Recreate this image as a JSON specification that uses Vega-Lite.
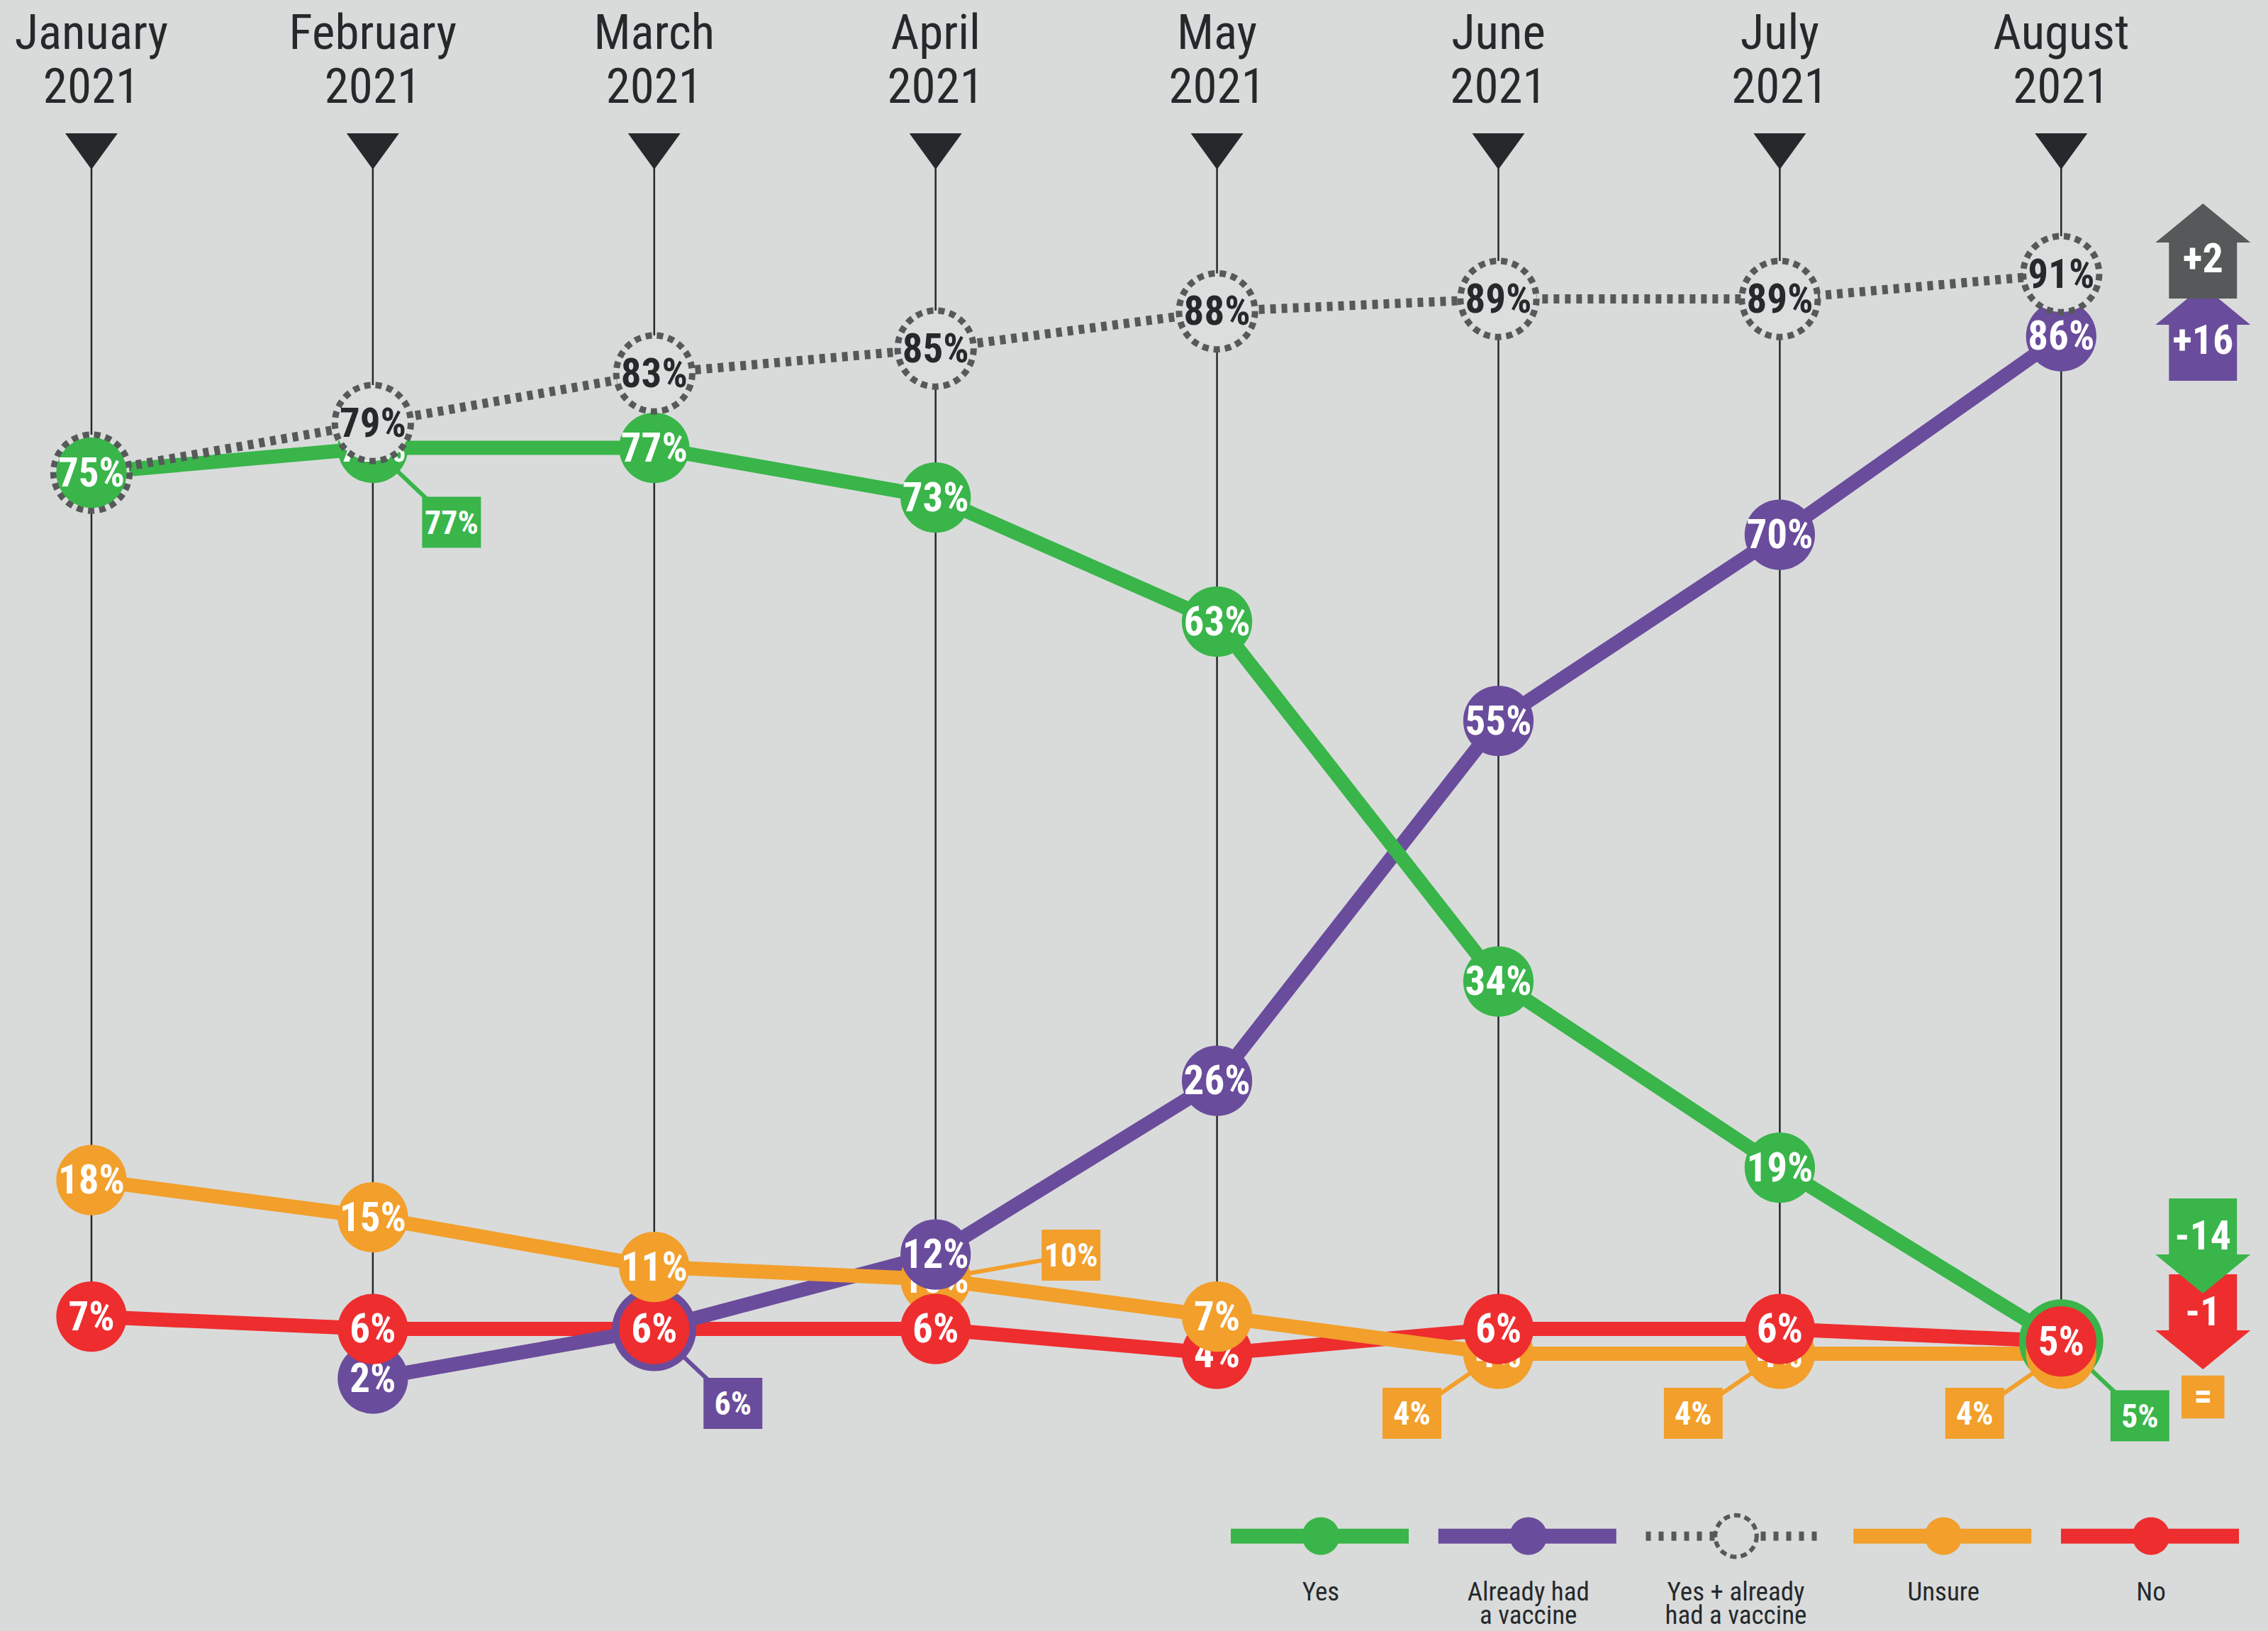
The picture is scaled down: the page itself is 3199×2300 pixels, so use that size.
{
  "$schema": "https://vega.github.io/schema/vega-lite/v6.json",
  "width": 3199,
  "height": 2300,
  "autosize": {"type": "none"},
  "padding": 0,
  "background": "#d9dbda",
  "config": {
    "view": {"stroke": null},
    "font": "Roboto Condensed, Liberation Sans Narrow, DejaVu Sans Condensed, sans-serif"
  },
  "datasets": {
    "months": [
      {"month": "January", "year": "2021"},
      {"month": "February", "year": "2021"},
      {"month": "March", "year": "2021"},
      {"month": "April", "year": "2021"},
      {"month": "May", "year": "2021"},
      {"month": "June", "year": "2021"},
      {"month": "July", "year": "2021"},
      {"month": "August", "year": "2021"}
    ],
    "points": [
      {"month": "January", "series": "Yes", "value": 0.75, "hidden": false, "callout": ""},
      {"month": "January", "series": "Yes + already", "value": 0.75, "hidden": true, "callout": ""},
      {"month": "January", "series": "Unsure", "value": 0.18, "hidden": false, "callout": ""},
      {"month": "January", "series": "No", "value": 0.07, "hidden": false, "callout": ""},
      {"month": "February", "series": "Yes", "value": 0.77, "hidden": true, "callout": "dr"},
      {"month": "February", "series": "Already had", "value": 0.02, "hidden": false, "callout": ""},
      {"month": "February", "series": "Yes + already", "value": 0.79, "hidden": false, "callout": ""},
      {"month": "February", "series": "Unsure", "value": 0.15, "hidden": false, "callout": ""},
      {"month": "February", "series": "No", "value": 0.06, "hidden": false, "callout": ""},
      {"month": "March", "series": "Yes", "value": 0.77, "hidden": false, "callout": ""},
      {"month": "March", "series": "Already had", "value": 0.06, "hidden": true, "callout": "dr"},
      {"month": "March", "series": "Yes + already", "value": 0.83, "hidden": false, "callout": ""},
      {"month": "March", "series": "Unsure", "value": 0.11, "hidden": false, "callout": ""},
      {"month": "March", "series": "No", "value": 0.06, "hidden": false, "callout": ""},
      {"month": "April", "series": "Yes", "value": 0.73, "hidden": false, "callout": ""},
      {"month": "April", "series": "Already had", "value": 0.12, "hidden": false, "callout": ""},
      {"month": "April", "series": "Yes + already", "value": 0.85, "hidden": false, "callout": ""},
      {"month": "April", "series": "Unsure", "value": 0.10, "hidden": true, "callout": "ur"},
      {"month": "April", "series": "No", "value": 0.06, "hidden": false, "callout": ""},
      {"month": "May", "series": "Yes", "value": 0.63, "hidden": false, "callout": ""},
      {"month": "May", "series": "Already had", "value": 0.26, "hidden": false, "callout": ""},
      {"month": "May", "series": "Yes + already", "value": 0.88, "hidden": false, "callout": ""},
      {"month": "May", "series": "Unsure", "value": 0.07, "hidden": false, "callout": ""},
      {"month": "May", "series": "No", "value": 0.04, "hidden": false, "callout": ""},
      {"month": "June", "series": "Yes", "value": 0.34, "hidden": false, "callout": ""},
      {"month": "June", "series": "Already had", "value": 0.55, "hidden": false, "callout": ""},
      {"month": "June", "series": "Yes + already", "value": 0.89, "hidden": false, "callout": ""},
      {"month": "June", "series": "Unsure", "value": 0.04, "hidden": true, "callout": "dl"},
      {"month": "June", "series": "No", "value": 0.06, "hidden": false, "callout": ""},
      {"month": "July", "series": "Yes", "value": 0.19, "hidden": false, "callout": ""},
      {"month": "July", "series": "Already had", "value": 0.70, "hidden": false, "callout": ""},
      {"month": "July", "series": "Yes + already", "value": 0.89, "hidden": false, "callout": ""},
      {"month": "July", "series": "Unsure", "value": 0.04, "hidden": true, "callout": "dl"},
      {"month": "July", "series": "No", "value": 0.06, "hidden": false, "callout": ""},
      {"month": "August", "series": "Yes", "value": 0.05, "hidden": true, "callout": "dr"},
      {"month": "August", "series": "Already had", "value": 0.86, "hidden": false, "callout": ""},
      {"month": "August", "series": "Yes + already", "value": 0.91, "hidden": false, "callout": ""},
      {"month": "August", "series": "Unsure", "value": 0.04, "hidden": true, "callout": "dl"},
      {"month": "August", "series": "No", "value": 0.05, "hidden": false, "callout": ""}
    ],
    "changes": [
      {"month": "August", "series": "Already had", "value": 0.86, "change": "+16"},
      {"month": "August", "series": "Yes + already", "value": 0.91, "change": "+2"},
      {"month": "August", "series": "No", "value": 0.05, "change": "-1"},
      {"month": "August", "series": "Yes", "value": 0.05, "change": "-14"},
      {"month": "August", "series": "Unsure", "value": 0.04, "change": "="}
    ],
    "legend": [
      {"series": "Yes", "l1": "Yes", "l2": ""},
      {"series": "Already had", "l1": "Already had", "l2": "a vaccine"},
      {"series": "Yes + already", "l1": "Yes + already", "l2": "had a vaccine"},
      {"series": "Unsure", "l1": "Unsure", "l2": ""},
      {"series": "No", "l1": "No", "l2": ""}
    ]
  },
  "resolve": {"scale": {"x": "independent"}},
  "layer": [
    {
      "data": {"name": "points"},
      "encoding": {
        "x": {"field": "month", "type": "ordinal", "axis": null,
              "scale": {"type": "point", "domain": ["January", "February", "March", "April", "May", "June", "July", "August"], "padding": 0.53, "align": 0.3066, "round": false}}
      },
      "layer": [
        {
          "transform": [{"aggregate": [{"op": "min", "field": "value", "as": "low"}], "groupby": ["month"]}],
          "mark": {"type": "rule", "color": "#25292c", "strokeWidth": 2.5},
          "encoding": {
            "y": {"field": "low", "type": "quantitative", "axis": null, "scale": {"domain": [-0.1834, 1.1309], "nice": false, "zero": false}},
            "y2": {"datum": 1.0089}
          }
        },
        {
          "data": {"name": "months"},
          "mark": {"type": "point", "shape": "M-1,-0.69L1,-0.69L0,0.69Z", "filled": true, "opacity": 1, "size": 5476, "color": "#25292c"},
          "encoding": {"y": {"datum": 1.0089, "type": "quantitative"}}
        },
        {
          "data": {"name": "months"},
          "mark": {"type": "text", "fontSize": 69, "color": "#25292c", "baseline": "alphabetic", "align": "center"},
          "encoding": {"y": {"datum": 1.0914, "type": "quantitative"}, "text": {"field": "month"}}
        },
        {
          "data": {"name": "months"},
          "mark": {"type": "text", "fontSize": 69, "color": "#25292c", "baseline": "alphabetic", "align": "center"},
          "encoding": {"y": {"datum": 1.048, "type": "quantitative"}, "text": {"field": "year"}}
        },
        {
          "transform": [{"filter": "datum.series === 'No'"}],
          "mark": {"type": "line", "strokeWidth": 20, "color": "#ee2d2f"},
          "encoding": {"y": {"field": "value", "type": "quantitative"}}
        },
        {
          "transform": [{"filter": "datum.series === 'Already had'"}],
          "mark": {"type": "line", "strokeWidth": 20, "color": "#6a4c9c"},
          "encoding": {"y": {"field": "value", "type": "quantitative"}}
        },
        {
          "transform": [{"filter": "datum.series === 'Unsure'"}],
          "mark": {"type": "line", "strokeWidth": 20, "color": "#f29f2b"},
          "encoding": {"y": {"field": "value", "type": "quantitative"}}
        },
        {
          "transform": [{"filter": "datum.series === 'Yes'"}],
          "mark": {"type": "line", "strokeWidth": 20, "color": "#39b54a"},
          "encoding": {"y": {"field": "value", "type": "quantitative"}}
        },
        {
          "transform": [{"filter": "datum.series === 'Yes + already'"}],
          "mark": {"type": "line", "strokeWidth": 13, "color": "#565959", "strokeDash": [8, 8]},
          "encoding": {"y": {"field": "value", "type": "quantitative"}}
        },
        {
          "transform": [{"filter": "datum.callout === 'dr'"}],
          "mark": {"type": "rule", "strokeWidth": 6, "x2Offset": 111, "y2Offset": 105},
          "encoding": {"y": {"field": "value", "type": "quantitative"}, "x2": {"field": "month"}, "y2": {"field": "value"},
                       "color": {"field": "series", "type": "nominal", "legend": null, "scale": {"domain": ["Yes", "Already had", "Yes + already", "Unsure", "No"], "range": ["#39b54a", "#6a4c9c", "#565959", "#f29f2b", "#ee2d2f"]}}}
        },
        {
          "transform": [{"filter": "datum.callout === 'ur'"}],
          "mark": {"type": "rule", "strokeWidth": 6, "x2Offset": 191, "y2Offset": -34},
          "encoding": {"y": {"field": "value", "type": "quantitative"}, "x2": {"field": "month"}, "y2": {"field": "value"},
                       "color": {"field": "series", "type": "nominal", "legend": null}}
        },
        {
          "transform": [{"filter": "datum.callout === 'dl'"}],
          "mark": {"type": "rule", "strokeWidth": 6, "x2Offset": -122, "y2Offset": 84},
          "encoding": {"y": {"field": "value", "type": "quantitative"}, "x2": {"field": "month"}, "y2": {"field": "value"},
                       "color": {"field": "series", "type": "nominal", "legend": null}}
        },
        {
          "transform": [
            {"joinaggregate": [{"op": "count", "as": "n"}], "groupby": ["month", "value"]},
            {"filter": "datum.hidden && datum.series !== 'Yes + already'"}
          ],
          "mark": {"type": "point", "shape": "circle", "filled": true, "opacity": 1},
          "encoding": {
            "y": {"field": "value", "type": "quantitative"},
            "color": {"field": "series", "type": "nominal", "legend": null},
            "size": {"condition": {"test": "datum.n > 1", "value": 14100}, "value": 9850}
          }
        },
        {
          "transform": [{"filter": "datum.hidden && datum.series === 'Yes + already'"}],
          "mark": {"type": "point", "shape": "circle", "filled": true, "opacity": 1, "size": 11500, "fill": "#dcdedd", "stroke": "#565959", "strokeWidth": 9, "strokeDash": [9, 7]},
          "encoding": {"y": {"field": "value", "type": "quantitative"}}
        },
        {
          "transform": [{"filter": "datum.hidden"}],
          "mark": {"type": "text", "fontSize": 57, "fontWeight": "bold", "baseline": "middle", "align": "center", "dy": 2},
          "encoding": {
            "y": {"field": "value", "type": "quantitative"},
            "text": {"field": "value", "type": "quantitative", "format": ".0%"},
            "color": {"condition": {"test": "datum.series === 'Yes + already'", "value": "#25292c"}, "value": "#ffffff"}
          }
        },
        {
          "transform": [{"filter": "!datum.hidden && datum.series === 'Already had'"}],
          "mark": {"type": "point", "shape": "circle", "filled": true, "opacity": 1, "size": 9850, "color": "#6a4c9c"},
          "encoding": {"y": {"field": "value", "type": "quantitative"}}
        },
        {
          "transform": [{"filter": "!datum.hidden && datum.series === 'Already had'"}],
          "mark": {"type": "text", "fontSize": 57, "fontWeight": "bold", "baseline": "middle", "align": "center", "dy": 2, "color": "#ffffff"},
          "encoding": {"y": {"field": "value", "type": "quantitative"}, "text": {"field": "value", "type": "quantitative", "format": ".0%"}}
        },
        {
          "transform": [{"filter": "!datum.hidden && datum.series === 'No'"}],
          "mark": {"type": "point", "shape": "circle", "filled": true, "opacity": 1, "size": 9850, "color": "#ee2d2f"},
          "encoding": {"y": {"field": "value", "type": "quantitative"}}
        },
        {
          "transform": [{"filter": "!datum.hidden && datum.series === 'No'"}],
          "mark": {"type": "text", "fontSize": 57, "fontWeight": "bold", "baseline": "middle", "align": "center", "dy": 2, "color": "#ffffff"},
          "encoding": {"y": {"field": "value", "type": "quantitative"}, "text": {"field": "value", "type": "quantitative", "format": ".0%"}}
        },
        {
          "transform": [{"filter": "!datum.hidden && datum.series === 'Unsure'"}],
          "mark": {"type": "point", "shape": "circle", "filled": true, "opacity": 1, "size": 9850, "color": "#f29f2b"},
          "encoding": {"y": {"field": "value", "type": "quantitative"}}
        },
        {
          "transform": [{"filter": "!datum.hidden && datum.series === 'Unsure'"}],
          "mark": {"type": "text", "fontSize": 57, "fontWeight": "bold", "baseline": "middle", "align": "center", "dy": 2, "color": "#ffffff"},
          "encoding": {"y": {"field": "value", "type": "quantitative"}, "text": {"field": "value", "type": "quantitative", "format": ".0%"}}
        },
        {
          "transform": [{"filter": "!datum.hidden && datum.series === 'Yes'"}],
          "mark": {"type": "point", "shape": "circle", "filled": true, "opacity": 1, "size": 9850, "color": "#39b54a"},
          "encoding": {"y": {"field": "value", "type": "quantitative"}}
        },
        {
          "transform": [{"filter": "!datum.hidden && datum.series === 'Yes'"}],
          "mark": {"type": "text", "fontSize": 57, "fontWeight": "bold", "baseline": "middle", "align": "center", "dy": 2, "color": "#ffffff"},
          "encoding": {"y": {"field": "value", "type": "quantitative"}, "text": {"field": "value", "type": "quantitative", "format": ".0%"}}
        },
        {
          "transform": [{"filter": "!datum.hidden && datum.series === 'Yes + already'"}],
          "mark": {"type": "point", "shape": "circle", "filled": true, "opacity": 1, "size": 11500, "fill": "#dcdedd", "stroke": "#565959", "strokeWidth": 9, "strokeDash": [9, 7]},
          "encoding": {"y": {"field": "value", "type": "quantitative"}}
        },
        {
          "transform": [{"filter": "!datum.hidden && datum.series === 'Yes + already'"}],
          "mark": {"type": "text", "fontSize": 57, "fontWeight": "bold", "baseline": "middle", "align": "center", "dy": 2, "color": "#25292c"},
          "encoding": {"y": {"field": "value", "type": "quantitative"}, "text": {"field": "value", "type": "quantitative", "format": ".0%"}}
        },
        {
          "transform": [{"filter": "datum.callout === 'dr'"}],
          "mark": {"type": "point", "shape": "M-1,-0.867L1,-0.867L1,0.867L-1,0.867Z", "filled": true, "opacity": 1, "size": 6889, "xOffset": 111, "yOffset": 105},
          "encoding": {"y": {"field": "value", "type": "quantitative"}, "color": {"field": "series", "type": "nominal", "legend": null}}
        },
        {
          "transform": [{"filter": "datum.callout === 'dr'"}],
          "mark": {"type": "text", "fontSize": 46, "fontWeight": "bold", "baseline": "middle", "align": "center", "color": "#ffffff", "xOffset": 111, "yOffset": 107},
          "encoding": {"y": {"field": "value", "type": "quantitative"}, "text": {"field": "value", "type": "quantitative", "format": ".0%"}}
        },
        {
          "transform": [{"filter": "datum.callout === 'ur'"}],
          "mark": {"type": "point", "shape": "M-1,-0.867L1,-0.867L1,0.867L-1,0.867Z", "filled": true, "opacity": 1, "size": 6889, "xOffset": 191, "yOffset": -34},
          "encoding": {"y": {"field": "value", "type": "quantitative"}, "color": {"field": "series", "type": "nominal", "legend": null}}
        },
        {
          "transform": [{"filter": "datum.callout === 'ur'"}],
          "mark": {"type": "text", "fontSize": 46, "fontWeight": "bold", "baseline": "middle", "align": "center", "color": "#ffffff", "xOffset": 191, "yOffset": -32},
          "encoding": {"y": {"field": "value", "type": "quantitative"}, "text": {"field": "value", "type": "quantitative", "format": ".0%"}}
        },
        {
          "transform": [{"filter": "datum.callout === 'dl'"}],
          "mark": {"type": "point", "shape": "M-1,-0.867L1,-0.867L1,0.867L-1,0.867Z", "filled": true, "opacity": 1, "size": 6889, "xOffset": -122, "yOffset": 84},
          "encoding": {"y": {"field": "value", "type": "quantitative"}, "color": {"field": "series", "type": "nominal", "legend": null}}
        },
        {
          "transform": [{"filter": "datum.callout === 'dl'"}],
          "mark": {"type": "text", "fontSize": 46, "fontWeight": "bold", "baseline": "middle", "align": "center", "color": "#ffffff", "xOffset": -122, "yOffset": 86},
          "encoding": {"y": {"field": "value", "type": "quantitative"}, "text": {"field": "value", "type": "quantitative", "format": ".0%"}}
        },
        {
          "data": {"name": "changes"},
          "transform": [{"filter": "datum.series === 'Already had'"}],
          "encoding": {"y": {"field": "value", "type": "quantitative"}},
          "layer": [
            {"mark": {"type": "point", "shape": "M0,-1L1,-0.18L0.716,-0.18L0.716,1L-0.716,1L-0.716,-0.18L-1,-0.18Z", "filled": true, "opacity": 1, "size": 17956, "color": "#6a4c9c", "xOffset": 200, "yOffset": -4}},
            {"mark": {"type": "text", "fontSize": 58, "fontWeight": "bold", "baseline": "middle", "align": "center", "color": "#ffffff", "xOffset": 200, "yOffset": 8}, "encoding": {"text": {"field": "change"}}}
          ]
        },
        {
          "data": {"name": "changes"},
          "transform": [{"filter": "datum.series === 'Yes + already'"}],
          "encoding": {"y": {"field": "value", "type": "quantitative"}},
          "layer": [
            {"mark": {"type": "point", "shape": "M0,-1L1,-0.18L0.716,-0.18L0.716,1L-0.716,1L-0.716,-0.18L-1,-0.18Z", "filled": true, "opacity": 1, "size": 17956, "color": "#565959", "xOffset": 200, "yOffset": -32.5}},
            {"mark": {"type": "text", "fontSize": 58, "fontWeight": "bold", "baseline": "middle", "align": "center", "color": "#ffffff", "xOffset": 200, "yOffset": -20}, "encoding": {"text": {"field": "change"}}}
          ]
        },
        {
          "data": {"name": "changes"},
          "transform": [{"filter": "datum.series === 'No'"}],
          "encoding": {"y": {"field": "value", "type": "quantitative"}},
          "layer": [
            {"mark": {"type": "point", "shape": "M0,1L1,0.18L0.716,0.18L0.716,-1L-0.716,-1L-0.716,0.18L-1,0.18Z", "filled": true, "opacity": 1, "size": 17956, "color": "#ee2d2f", "xOffset": 200, "yOffset": -27.5}},
            {"mark": {"type": "text", "fontSize": 58, "fontWeight": "bold", "baseline": "middle", "align": "center", "color": "#ffffff", "xOffset": 200, "yOffset": -40}, "encoding": {"text": {"field": "change"}}}
          ]
        },
        {
          "data": {"name": "changes"},
          "transform": [{"filter": "datum.series === 'Yes'"}],
          "encoding": {"y": {"field": "value", "type": "quantitative"}},
          "layer": [
            {"mark": {"type": "point", "shape": "M0,1L1,0.18L0.716,0.18L0.716,-1L-0.716,-1L-0.716,0.18L-1,0.18Z", "filled": true, "opacity": 1, "size": 17956, "color": "#39b54a", "xOffset": 200, "yOffset": -134.5}},
            {"mark": {"type": "text", "fontSize": 58, "fontWeight": "bold", "baseline": "middle", "align": "center", "color": "#ffffff", "xOffset": 200, "yOffset": -147}, "encoding": {"text": {"field": "change"}}}
          ]
        },
        {
          "data": {"name": "changes"},
          "transform": [{"filter": "datum.series === 'Unsure'"}],
          "encoding": {"y": {"field": "value", "type": "quantitative"}},
          "layer": [
            {"mark": {"type": "point", "shape": "square", "filled": true, "opacity": 1, "size": 3660, "color": "#f29f2b", "xOffset": 200, "yOffset": 61}},
            {"mark": {"type": "text", "fontSize": 52, "fontWeight": "bold", "baseline": "middle", "align": "center", "color": "#ffffff", "xOffset": 200, "yOffset": 61}, "encoding": {"text": {"field": "change"}}}
          ]
        }
      ]
    },
    {
      "data": {"name": "legend"},
      "encoding": {
        "x": {"field": "series", "type": "nominal", "axis": null,
              "scale": {"type": "point", "domain": ["Yes", "Already had", "Yes + already", "Unsure", "No"], "range": [1863, 3034], "padding": 0}}
      },
      "layer": [
        {
          "transform": [{"filter": "datum.series !== 'Yes + already'"}],
          "mark": {"type": "rule", "strokeWidth": 21, "xOffset": -127, "x2Offset": 124},
          "encoding": {
            "x2": {"field": "series"},
            "y": {"datum": -0.1069, "type": "quantitative", "scale": {"domain": [-0.1834, 1.1309], "nice": false, "zero": false}},
            "color": {"field": "series", "type": "nominal", "legend": null}
          }
        },
        {
          "transform": [{"filter": "datum.series === 'Yes + already'"}],
          "mark": {"type": "rule", "strokeWidth": 13, "xOffset": -127, "x2Offset": 124, "color": "#565959", "strokeDash": [7, 11]},
          "encoding": {
            "x2": {"field": "series"},
            "y": {"datum": -0.1069, "type": "quantitative"}
          }
        },
        {
          "transform": [{"filter": "datum.series !== 'Yes + already'"}],
          "mark": {"type": "point", "shape": "circle", "filled": true, "opacity": 1, "size": 2827},
          "encoding": {
            "y": {"datum": -0.1069, "type": "quantitative"},
            "color": {"field": "series", "type": "nominal", "legend": null}
          }
        },
        {
          "transform": [{"filter": "datum.series === 'Yes + already'"}],
          "mark": {"type": "point", "shape": "circle", "filled": true, "opacity": 1, "size": 3421, "fill": "#d9dbda", "stroke": "#565959", "strokeWidth": 6, "strokeDash": [9, 6]},
          "encoding": {"y": {"datum": -0.1069, "type": "quantitative"}}
        },
        {
          "mark": {"type": "text", "fontSize": 37, "color": "#25292c", "baseline": "alphabetic", "align": "center"},
          "encoding": {"y": {"datum": -0.1589, "type": "quantitative"}, "text": {"field": "l1"}}
        },
        {
          "mark": {"type": "text", "fontSize": 37, "color": "#25292c", "baseline": "alphabetic", "align": "center"},
          "encoding": {"y": {"datum": -0.1777, "type": "quantitative"}, "text": {"field": "l2"}}
        }
      ]
    }
  ]
}
